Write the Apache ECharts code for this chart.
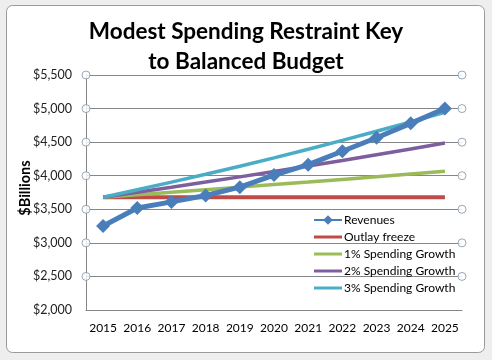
<!DOCTYPE html>
<html><head><meta charset="utf-8">
<script src="https://cdn.jsdelivr.net/npm/echarts@6/dist/echarts.min.js"></script>
<style>html,body{margin:0;padding:0;background:#eeeeee;}#c{width:492px;height:360px;}</style>
</head><body><div id="c"></div>
<script>
var years = ['2015','2016','2017','2018','2019','2020','2021','2022','2023','2024','2025'];
var revenues = [3250, 3520, 3610, 3705, 3830, 4010, 4165, 4365, 4565, 4780, 5000];
var outlayFreeze = [3680, 3680, 3680, 3680, 3680, 3680, 3680, 3680, 3680, 3680, 3680];
var growth1 = [3680, 3717, 3754, 3792, 3830, 3868, 3906, 3945, 3985, 4025, 4065];
var growth2 = [3680, 3754, 3829, 3905, 3983, 4063, 4144, 4227, 4312, 4398, 4486];
var growth3 = [3680, 3790, 3904, 4021, 4142, 4266, 4394, 4526, 4662, 4801, 4946];
var gridTicks = [2500, 3000, 3500, 4000, 4500, 5000, 5500];
var yTitle = '$Billions';

var handles = [];
gridTicks.forEach(function (v) { handles.push([0, v]); handles.push([1, v]); });

var chart = echarts.init(document.getElementById('c'), null, {renderer: 'canvas'});
var font = 'Lato, "Open Sans", sans-serif';
var barIcon = 'path://M0,5 L28,5 L28,8 L0,8 Z';
function line(name, data, color, width, z) {
  return {
    name: name, type: 'line', data: data,
    symbol: 'none', z: z,
    lineStyle: {color: color, width: width},
    itemStyle: {color: color}
  };
}
chart.setOption({
  backgroundColor: '#eeeeee',
  animation: false,
  graphic: [{
    type: 'rect', left: 6, top: 5, z: -10,
    shape: {width: 478, height: 347, r: 6},
    style: {fill: '#ffffff', stroke: '#9a9a9a', lineWidth: 1}
  }, {
    type: 'text', x: 25, y: 188, rotation: Math.PI / 2, z: 5,
    style: {text: yTitle, fill: '#000', font: 'bold 14.5px Lato, sans-serif', align: 'center', verticalAlign: 'middle'}
  }],
  title: {
    text: 'Modest Spending Restraint Key\nto Balanced Budget',
    left: 'center', top: 12,
    textStyle: {fontFamily: font, fontWeight: 'bold', fontSize: 22.5, color: '#000', lineHeight: 30}
  },
  legend: {
    orient: 'vertical', left: 308, top: 209,
    itemWidth: 28, itemHeight: 12, itemGap: 5,
    data: [
      {name: 'Revenues'},
      {name: 'Outlay freeze', icon: barIcon},
      {name: '1% Spending Growth', icon: barIcon},
      {name: '2% Spending Growth', icon: barIcon},
      {name: '3% Spending Growth', icon: barIcon}
    ],
    textStyle: {fontFamily: font, fontSize: 12, color: '#000', padding: [0, 0, 0, -3]}
  },
  grid: {left: 86, right: 30, top: 75, bottom: 50, containLabel: false},
  xAxis: [{
    type: 'category', data: years, boundaryGap: true,
    axisLine: {show: true, lineStyle: {color: '#868686', width: 1}},
    axisTick: {show: false},
    axisLabel: {interval: 0, fontFamily: font, fontSize: 12, color: '#000', margin: 12}
  }, {
    type: 'value', min: 0, max: 1, show: false
  }],
  yAxis: [{
    type: 'value', min: 2000, max: 5500, interval: 500,
    axisLine: {show: true, lineStyle: {color: '#868686', width: 1}},
    axisTick: {show: false},
    splitLine: {show: true, lineStyle: {color: '#868686', width: 1}},
    axisLabel: {
      fontFamily: font, fontSize: 12.5, color: '#222', margin: 14,
      formatter: function (v) { return '$' + v.toLocaleString('en-US'); }
    }
  }],
  series: [
    {
      name: 'Revenues', type: 'line', data: revenues, z: 10,
      symbol: 'diamond', symbolSize: 14, showSymbol: true,
      lineStyle: {color: '#4A7EBB', width: 5},
      itemStyle: {color: '#4A7EBB'}
    },
    line('Outlay freeze', outlayFreeze, '#BE4B48', 4, 3),
    line('1% Spending Growth', growth1, '#9BBB59', 3.5, 4),
    line('2% Spending Growth', growth2, '#7D5FA0', 3.5, 5),
    line('3% Spending Growth', growth3, '#4BACC6', 3.5, 6),
    {
      type: 'scatter', xAxisIndex: 1, yAxisIndex: 0, data: handles,
      symbol: 'circle', symbolSize: 8, clip: false, silent: true, z: 20,
      itemStyle: {color: '#ffffff', borderColor: '#7f93a8', borderWidth: 1}
    }
  ]
});
</script></body></html>
